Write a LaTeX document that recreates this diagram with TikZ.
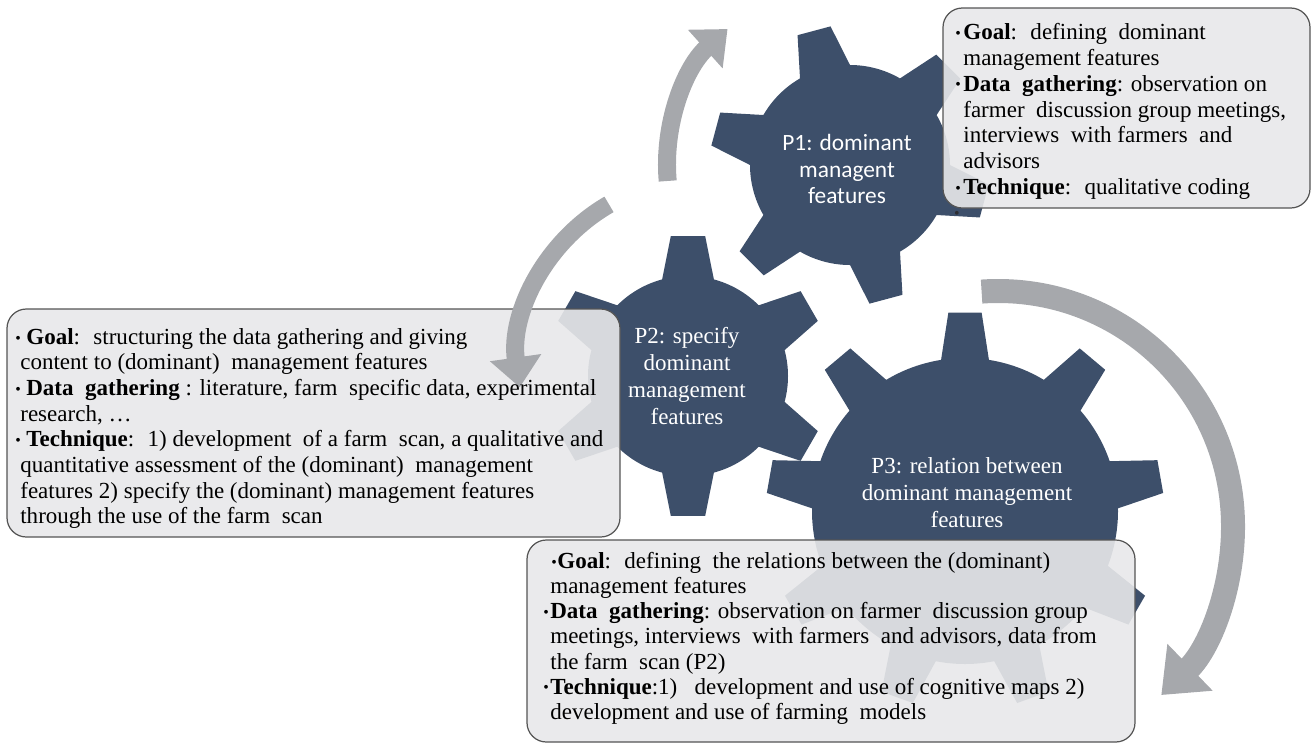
\documentclass[tikz,border=0pt]{standalone}
\usepackage{fontspec}
\setmainfont{Liberation Serif}
\newfontfamily\calfont{Carlito}
\usetikzlibrary{arrows.meta,fit}
\definecolor{gearblue}{RGB}{61,79,106}
\definecolor{arrowgray}{RGB}{166,168,172}
\definecolor{boxgray}{RGB}{232,232,234}
\definecolor{boxline}{RGB}{85,85,85}
\definecolor{dotgray}{RGB}{45,45,50}

% one picture pixel
\newlength{\pxu}\setlength{\pxu}{0.02cm}
\newcommand{\bul}[1]{\makebox[#1][l]{\raisebox{0.12ex}{\fontsize{9}{9}\selectfont •}}}

% gear around the origin: body radius, tip radius, teeth, phase, tip half angle, base half angle
\newcommand{\gearpath}[6]{%
  \pgfmathsetmacro{\gstep}{360/#3}
  \fill[gearfill] (#4-#6:#1)
  \foreach \k in {1,...,#3}{
    -- ({#4+(\k-1)*\gstep-#5}:#2) -- ({#4+(\k-1)*\gstep+#5}:#2)
    -- ({#4+(\k-1)*\gstep+#6}:#1)
    arc[start angle={#4+(\k-1)*\gstep+#6}, end angle={#4+\k*\gstep-#6}, radius=#1]
  } -- cycle;}

\tikzset{
  gearfill/.style={fill=gearblue},
  infobox/.style={draw=boxline, line width=0.7pt, fill=boxgray, fill opacity=0.9,
    rounded corners=11pt, inner sep=0pt},
  boxtext/.style={anchor=north west, align=left, inner sep=0pt, text=black},
  gearlabel/.style={text=white, align=center, inner sep=0pt,
    font=\rmfamily\fontsize{13.1}{15.4}\selectfont},
  cycarrow/.style={draw=arrowgray, line width=0.36cm,
    -{Triangle[length=0.6cm,width=1cm]}},
  bigarrow/.style={cycarrow, line width=0.48cm,
    -{Triangle[length=0.8cm,width=1.25cm]}}
}

\begin{document}
\begin{tikzpicture}[x=0.02cm, y=-0.02cm, font=\fontsize{13.1}{14.7}\selectfont]
\useasboundingbox (0,0) rectangle (1312,745);

% gear centres
\coordinate (p1c) at (850,165);
\coordinate (p2c) at (688,376);
\coordinate (p3c) at (965,511);

% gears
\begin{scope}[shift={(p1c)}] \gearpath{100}{140}{6}{15}{7}{15} \end{scope}
\begin{scope}[shift={(p2c)}] \gearpath{100}{141}{6}{30}{7}{15} \end{scope}
\begin{scope}[shift={(p3c)}] \gearpath{153}{199}{9}{30}{4.8}{9} \end{scope}

% boxes
\node[infobox, fit={(943,8) (1310,208)}] (infoP1) {};
\node[infobox, fit={(7,309) (620,537)}] (infoP2) {};
\node[infobox, fit={(527,540) (1135,742)}] (infoP3) {};

% cycle arrows
\draw[cycarrow, shift={(p1c)}] (175:183) arc[start angle=175, end angle=228, radius=183];
\coordinate (a2c) at (700,362);
\draw[cycarrow, shift={(a2c)}] (240:182) arc[start angle=240, end angle=172, radius=182];
\coordinate (a3c) at (998,526);
\draw[bigarrow, shift={(a3c)}] (266:235) arc[start angle=266, end angle=406, radius=235];

% gear labels
\node[gearlabel, font=\calfont\fontsize{13.3}{15.2}\selectfont] (lblP1) at (847,169)
  {P1: dominant\\managent\\features};
\node[gearlabel] (lblP2) at (687,376) {P2: specify\\dominant\\management\\features};
\node[gearlabel] (lblP3) at (967,493) {P3: relation between\\dominant management\\features};

% box texts
\node[boxtext] (txtP1) at (955,23) {%
\bul{8\pxu}\textbf{Goal}:~ defining~ dominant\\
\hspace*{8\pxu}management features\\
\bul{8\pxu}\textbf{Data~ gathering}: observation on\\
\hspace*{8\pxu}farmer~ discussion group meetings,\\
\hspace*{8\pxu}interviews~ with farmers~ and\\
\hspace*{8\pxu}advisors\\
\bul{8\pxu}\textbf{Technique}:~ qualitative coding};
\node[text=dotgray, inner sep=0pt] (strayDot) at (957,215) {\fontsize{9}{9}\selectfont •};

\node[boxtext, font=\fontsize{13.1}{14.6}\selectfont] (txtP2) at (15,328) {%
\bul{11\pxu}\textbf{Goal}:~ structuring the data gathering and giving\\
\hspace*{5\pxu}content to (dominant)~ management features\\
\bul{11\pxu}\textbf{Data~ gathering} : literature, farm~ specific data, experimental\\
\hspace*{5\pxu}research, …\\
\bul{11\pxu}\textbf{Technique}:~ 1) development~ of a farm~ scan, a qualitative and\\
\hspace*{5\pxu}quantitative assessment of the (dominant)~ management\\
\hspace*{5\pxu}features 2) specify the (dominant) management features\\
\hspace*{5\pxu}through the use of the farm~ scan};

\node[boxtext, font=\fontsize{13.1}{14.3}\selectfont] (txtP3) at (543,552) {%
\hspace*{8\pxu}\bul{6\pxu}\textbf{Goal}:~ defining~ the relations between the (dominant)\\
\hspace*{7\pxu}management features\\
\bul{7\pxu}\textbf{Data~ gathering}: observation on farmer~ discussion group\\
\hspace*{7\pxu}meetings, interviews~ with farmers~ and advisors, data from\\
\hspace*{7\pxu}the farm~ scan (P2)\\
\bul{7\pxu}\textbf{Technique}:1)~~ development and use of cognitive maps 2)\\
\hspace*{7\pxu}development and use of farming~ models};
\end{tikzpicture}
\end{document}
